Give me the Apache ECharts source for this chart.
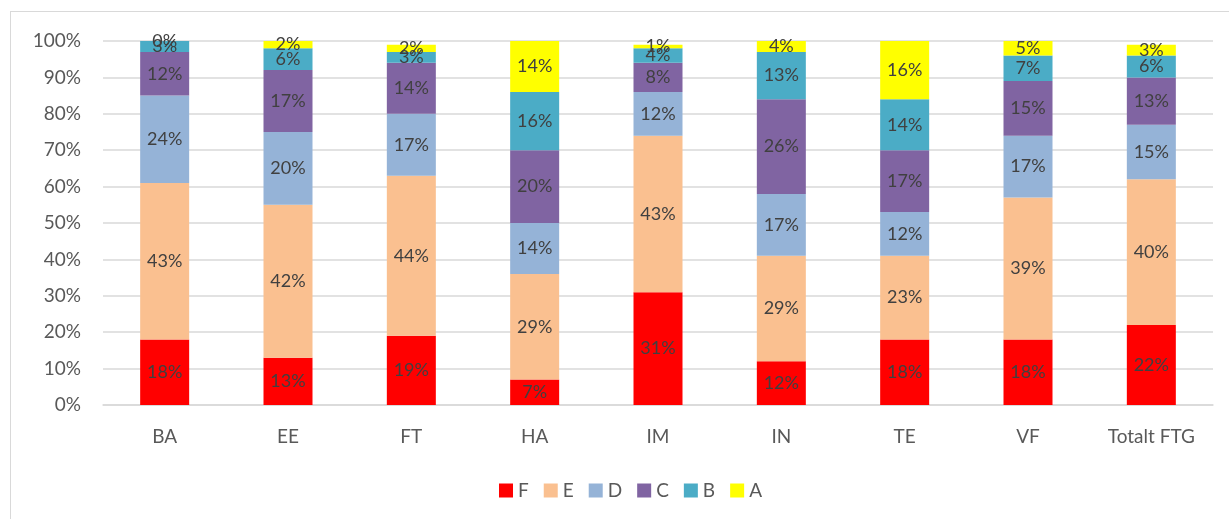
<!DOCTYPE html>
<html>
<head>
<meta charset="utf-8">
<script src="https://cdn.jsdelivr.net/npm/echarts@6/dist/echarts.min.js"></script>
<style>
  html, body { margin: 0; padding: 0; background: #fff; }
  #chart { width: 1229px; height: 519px; }
  .frame { position: absolute; left: 10px; top: 11px; width: 1230px; height: 520px; border: 1px solid #d9d9d9; pointer-events: none; }
</style>
</head>
<body>
<div id="chart"></div>
<div class="frame"></div>
<script>
const categories = ['BA', 'EE', 'FT', 'HA', 'IM', 'IN', 'TE', 'VF', 'Totalt FTG']
const yTicks = [0, 10, 20, 30, 40, 50, 60, 70, 80, 90, 100]

// andel per betyg (%)
const gradeF = [18, 13, 19, 7, 31, 12, 18, 18, 22]
const gradeE = [43, 42, 44, 29, 43, 29, 23, 39, 40]
const gradeD = [24, 20, 17, 14, 12, 17, 12, 17, 15]
const gradeC = [12, 17, 14, 20, 8, 26, 17, 15, 13]
const gradeB = [3, 6, 3, 16, 4, 13, 14, 7, 6]
const gradeA = [0, 2, 2, 14, 1, 4, 16, 5, 3]

const seriesDefs = [
  { name: 'F', data: gradeF, color: '#FF0000' },
  { name: 'E', data: gradeE, color: '#FAC090' },
  { name: 'D', data: gradeD, color: '#95B3D7' },
  { name: 'C', data: gradeC, color: '#8064A2' },
  { name: 'B', data: gradeB, color: '#4BACC6' },
  { name: 'A', data: gradeA, color: '#FFFF00' }
]

const fontFamily = 'Lato, "Open Sans", sans-serif'
const chart = echarts.init(document.getElementById('chart'))

const option = {
  animation: false,
  textStyle: { fontFamily },
  grid: { left: 103, right: 16, top: 41, bottom: 114 },
  legend: {
    bottom: 14,
    left: 494,
    itemWidth: 14,
    itemHeight: 14,
    itemGap: 15,
    icon: 'rect',
    textStyle: { fontSize: 19, color: '#595959', fontFamily }
  },
  xAxis: {
    type: 'category',
    data: categories,
    axisLine: { lineStyle: { color: '#d9d9d9', width: 1.5 } },
    axisTick: { show: false },
    axisLabel: { fontSize: 19, color: '#595959', margin: 22, fontFamily }
  },
  yAxis: {
    type: 'value',
    min: yTicks[0],
    max: yTicks[yTicks.length - 1],
    interval: 10,
    axisLine: { show: false },
    axisTick: { show: false },
    splitLine: { lineStyle: { color: '#d9d9d9', width: 1.5 } },
    axisLabel: { fontSize: 19, color: '#595959', margin: 22, formatter: v => v + '%', fontFamily }
  },
  series: seriesDefs.map(s => ({
    name: s.name,
    type: 'bar',
    stack: 'total',
    barWidth: 49,
    data: s.data,
    itemStyle: { color: s.color },
    label: {
      show: true,
      position: 'inside',
      formatter: p => p.value + '%',
      fontSize: 18,
      color: '#404040',
      fontFamily
    }
  }))
}

chart.setOption(option)
</script>
</body>
</html>
